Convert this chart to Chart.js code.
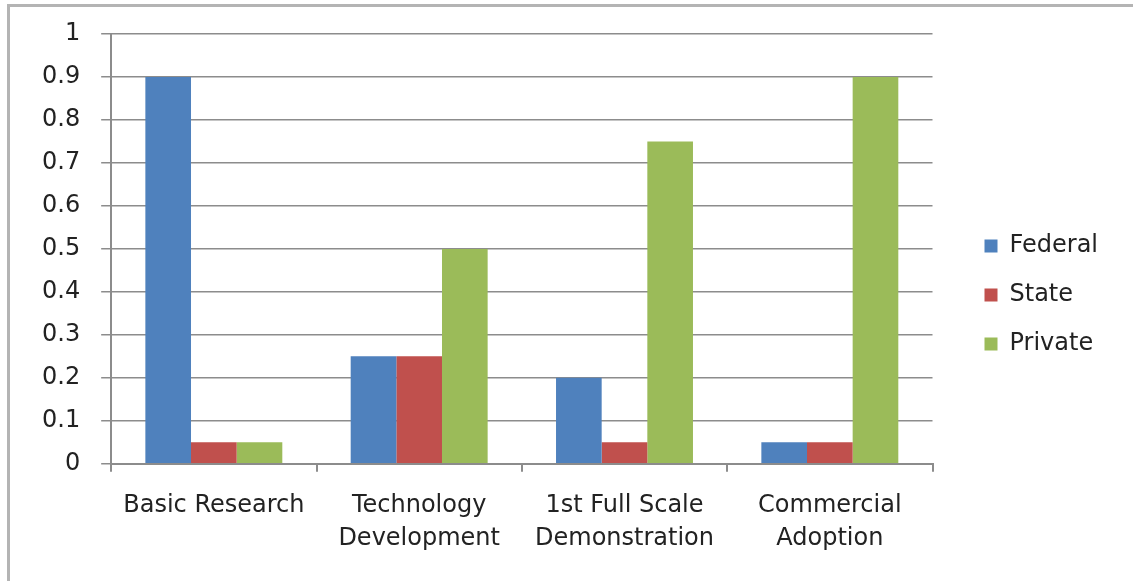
<!DOCTYPE html>
<html>
<head>
<meta charset="utf-8">
<script src="https://cdn.jsdelivr.net/npm/chart.js@4"></script>
<style>
  body { margin: 0; background: #fff; }
  #wrap { position: absolute; left: 0; top: 0; width: 1133px; height: 581px; }
  #frame { position: absolute; left: 7px; top: 4px; width: 1140px; height: 590px;
           border-left: 3px solid #b4b4b4; border-top: 3px solid #b4b4b4; pointer-events: none; }
</style>
</head>
<body>
<div id="wrap"><canvas id="chart"></canvas></div>
<div id="frame"></div>
<script>
// stages of the technology path
var categories = ['Basic Research', ['Technology', 'Development'], ['1st Full Scale', 'Demonstration'], ['Commercial', 'Adoption']];

// share of funding per source
var federal = [0.9, 0.25, 0.2, 0.05];
var state = [0.05, 0.25, 0.05, 0.05];
var privateShare = [0.05, 0.5, 0.75, 0.9];

var seriesNames = ['Federal', 'State', 'Private'];
var seriesColors = ['#4F81BD', '#C0504D', '#9BBB59'];

var yMin = 0, yMax = 1, yStep = 0.1;

var font = { family: 'DejaVu Sans', size: 24, lineHeight: 1.4 };
var yFont = { family: 'DejaVu Sans', size: 24, lineHeight: 1 };
var gridColor = '#8c8c8c';

Chart.defaults.color = '#222';
Chart.defaults.font.family = 'DejaVu Sans';

var chart = new Chart(document.getElementById('chart'), {
  type: 'bar',
  data: {
    labels: categories,
    datasets: [
      { label: seriesNames[0], data: federal, backgroundColor: seriesColors[0] },
      { label: seriesNames[1], data: state, backgroundColor: seriesColors[1] },
      { label: seriesNames[2], data: privateShare, backgroundColor: seriesColors[2] }
    ]
  },
  options: {
    responsive: true,
    maintainAspectRatio: false,
    animation: false,
    categoryPercentage: 0.667,
    barPercentage: 1,
    layout: { padding: { left: 21, top: 0, right: 25, bottom: 8 } },
    plugins: {
      tooltip: { enabled: false },
      // empty title only used as top spacing above the plot
      title: {
        display: true,
        text: '',
        fullSize: false,
        font: { size: 10, lineHeight: 1 },
        padding: { top: 24, bottom: 0 }
      },
      legend: {
        position: 'right',
        // empty legend title nudges the items down a little
        title: { display: true, text: '', font: { size: 10, lineHeight: 1.7 }, padding: 0 },
        labels: { font: font, boxWidth: 13, boxHeight: 13, padding: 25 }
      }
    },
    scales: {
      x: {
        ticks: { font: font, padding: 17, maxRotation: 0, autoSkip: false },
        grid: { offset: true, drawOnChartArea: false, drawTicks: true, tickLength: 8, color: gridColor, lineWidth: 2 },
        border: { color: gridColor, width: 2 }
      },
      y: {
        min: yMin,
        max: yMax,
        ticks: {
          stepSize: yStep,
          font: yFont,
          padding: 21,
          callback: function (v) { return String(Math.round(v * 10) / 10); }
        },
        grid: { color: gridColor, lineWidth: 1.5, tickLength: 10 },
        border: { color: gridColor, width: 2 }
      },
      // empty spacer between the plot and the legend
      gap: {
        position: 'right',
        display: true,
        ticks: { display: false },
        grid: { display: false },
        border: { display: false },
        afterFit: function (s) { s.width = 27; }
      }
    }
  }
});
</script>
</body>
</html>
